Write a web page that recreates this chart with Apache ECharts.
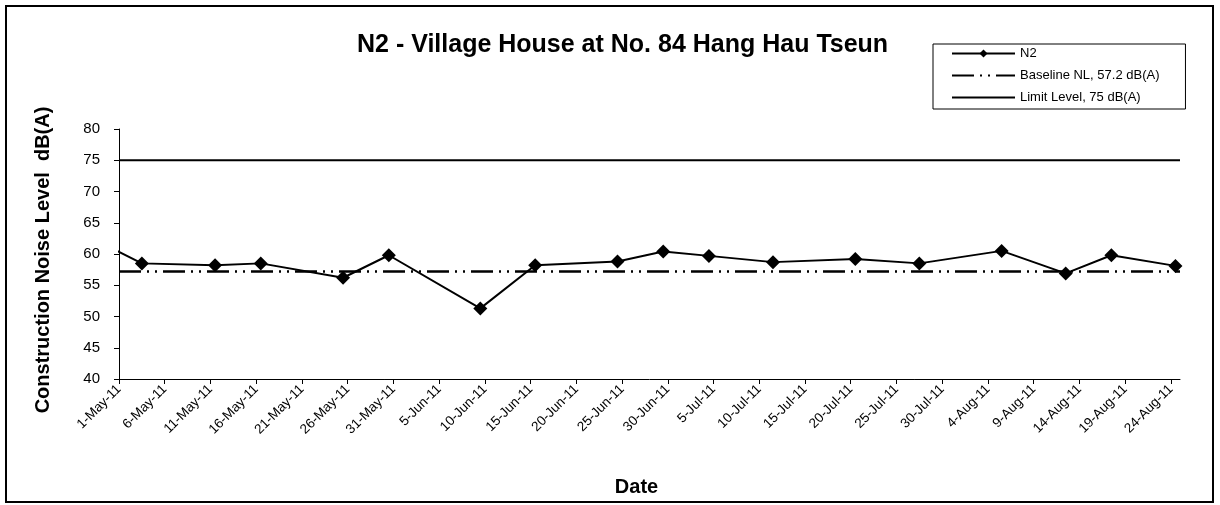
<!DOCTYPE html>
<html>
<head>
<meta charset="utf-8">
<script src="https://cdn.jsdelivr.net/npm/echarts@6/dist/echarts.min.js"></script>
<style>
  html, body { margin: 0; padding: 0; background: #fff; }
  #chart { width: 1220px; height: 505px; }
</style>
</head>
<body>
<div id="chart"></div>
<script>
let dates = [
  '2011-04-30', '2011-05-03', '2011-05-11', '2011-05-16', '2011-05-25', '2011-05-30',
  '2011-06-09', '2011-06-15', '2011-06-24', '2011-06-29', '2011-07-04', '2011-07-11',
  '2011-07-20', '2011-07-27', '2011-08-05', '2011-08-12', '2011-08-17', '2011-08-24'
]
let n2Levels = [
  60.7, 58.5, 58.2, 58.5, 56.2, 59.8,
  51.3, 58.2, 58.8, 60.4, 59.7, 58.7,
  59.2, 58.5, 60.5, 56.9, 59.8, 58.1
]
let baselineLevel = 57.2
let limitLevel = 75

let axisStart = '2011-05-01'
let axisEnd = '2011-08-25'
let tickLabels = [
  '1-May-11', '6-May-11', '11-May-11', '16-May-11', '21-May-11', '26-May-11',
  '31-May-11', '5-Jun-11', '10-Jun-11', '15-Jun-11', '20-Jun-11', '25-Jun-11',
  '30-Jun-11', '5-Jul-11', '10-Jul-11', '15-Jul-11', '20-Jul-11', '25-Jul-11',
  '30-Jul-11', '4-Aug-11', '9-Aug-11', '14-Aug-11', '19-Aug-11', '24-Aug-11'
]
let tickStep = 5

let font = 'Liberation Sans, Arial, sans-serif'

// days since axisStart
let dayOf = (s) => Math.round((Date.parse(s + 'T00:00:00Z') - Date.parse(axisStart + 'T00:00:00Z')) / 86400000)

let xMax = dayOf(axisEnd)
let tickDays = tickLabels.map((t, i) => i * tickStep)

// excel "between tick marks": each date sits in the middle of its day
let n2Data = dates.map((d, i) => [dayOf(d) + 0.5, n2Levels[i]])

let chart = echarts.init(document.getElementById('chart'), null, { renderer: 'canvas' })

let option = {
  backgroundColor: '#fff',
  animation: false,
  textStyle: { fontFamily: font, color: '#000' },
  title: {
    text: 'N2 - Village House at No. 84 Hang Hau Tseun',
    left: 352,
    top: 28,
    textStyle: { fontFamily: font, fontSize: 25, fontWeight: 'bold', color: '#000' }
  },
  graphic: [
    {
      type: 'rect',
      shape: { x: 6, y: 6, width: 1207, height: 496 },
      style: { fill: 'none', stroke: '#000', lineWidth: 2 },
      silent: true
    }
  ],
  legend: {
    orient: 'vertical',
    left: 933,
    top: 44,
    padding: [3, 26, 5, 18],
    itemWidth: 63,
    itemHeight: 10,
    itemGap: 9,
    borderColor: '#000',
    borderWidth: 1,
    textStyle: { fontFamily: font, fontSize: 13, color: '#000' },
    data: [
      { name: 'N2' },
      { name: 'Baseline NL, 57.2 dB(A)', itemStyle: { opacity: 0 } },
      { name: 'Limit Level, 75 dB(A)', itemStyle: { opacity: 0 } }
    ]
  },
  grid: {
    left: 119,
    right: 40,
    top: 129,
    bottom: 126
  },
  xAxis: {
    type: 'value',
    min: 0,
    max: xMax,
    name: 'Date',
    nameLocation: 'middle',
    nameGap: 98,
    nameTextStyle: { fontFamily: font, fontSize: 20, fontWeight: 'bold', color: '#000', padding: [0, 26, 0, 0] },
    splitLine: { show: false },
    axisLine: { lineStyle: { color: '#000', width: 1 } },
    axisTick: {
      show: true,
      length: 5,
      customValues: tickDays,
      lineStyle: { color: '#000' }
    },
    axisLabel: {
      rotate: 45,
      margin: 8,
      fontSize: 13.5,
      color: '#000',
      customValues: tickDays,
      formatter: (v) => tickLabels[Math.round(v / tickStep)] || ''
    }
  },
  yAxis: {
    type: 'value',
    min: 40,
    max: 80,
    interval: 5,
    name: 'Construction Noise Level  dB(A)',
    nameLocation: 'middle',
    nameGap: 66,
    nameTextStyle: { fontFamily: font, fontSize: 20, fontWeight: 'bold', color: '#000', padding: [0, 12, 0, 0] },
    splitLine: { show: false },
    axisLine: { show: true, lineStyle: { color: '#000', width: 1 } },
    axisTick: { show: true, length: 5, lineStyle: { color: '#000' } },
    axisLabel: { fontSize: 15, color: '#000', margin: 19 }
  },
  series: [
    {
      name: 'N2',
      type: 'line',
      data: n2Data,
      symbol: 'diamond',
      symbolSize: 14,
      color: '#000',
      lineStyle: { color: '#000', width: 2 },
      itemStyle: { color: '#000' },
      z: 5
    },
    {
      name: 'Baseline NL, 57.2 dB(A)',
      type: 'line',
      data: [[0, baselineLevel], [xMax, baselineLevel]],
      symbol: 'none',
      color: '#000',
      lineStyle: { color: '#000', width: 2.5, type: [22, 6, 2, 6, 2, 6] },
      z: 3
    },
    {
      name: 'Limit Level, 75 dB(A)',
      type: 'line',
      data: [[0, limitLevel], [xMax, limitLevel]],
      symbol: 'none',
      color: '#000',
      lineStyle: { color: '#000', width: 2 },
      z: 3
    }
  ]
}

chart.setOption(option)
</script>
</body>
</html>
